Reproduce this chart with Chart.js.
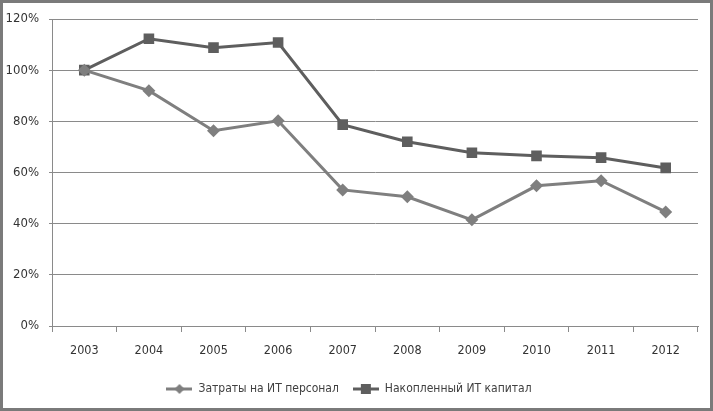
<!DOCTYPE html>
<html>
<head>
<meta charset="utf-8">
<script src="https://cdn.jsdelivr.net/npm/chart.js@4/dist/chart.umd.min.js"></script>
<style>
  body { margin: 0; background: #fff; }
  #chart { display: block; }
</style>
</head>
<body>
<canvas id="chart" width="713" height="411"></canvas>
<script>
const years = ['2003', '2004', '2005', '2006', '2007', '2008', '2009', '2010', '2011', '2012'];
const staffCosts = [1.00, 0.92, 0.763, 0.802, 0.532, 0.505, 0.415, 0.548, 0.568, 0.446];
const itCapital = [1.00, 1.123, 1.088, 1.108, 0.787, 0.72, 0.677, 0.665, 0.658, 0.618];
const yTicks = [0, 0.2, 0.4, 0.6, 0.8, 1.0, 1.2];

const FONT = '"Liberation Sans Narrow", "DejaVu Sans Condensed", Arial, sans-serif';
const lightGrey = '#7f7f7f';
const darkGrey = '#5e5e5e';

// small legend icons: line with marker in the middle
function legendIcon(color, shape){
    const c = document.createElement('canvas');
    c.width = 26; c.height = 12;
    const g = c.getContext('2d');
    g.strokeStyle = color; g.fillStyle = color; g.lineWidth = 3;
    g.beginPath(); g.moveTo(0, 6); g.lineTo(26, 6); g.stroke();
    g.beginPath();
    if(shape === 'diamond'){
        g.moveTo(13, 1); g.lineTo(18, 6); g.lineTo(13, 11); g.lineTo(8, 6); g.closePath();
    } else {
        g.rect(8, 1, 10, 10);
    }
    g.fill();
    return c;
}

const framePlugin = {
    id: 'frame',
    beforeDraw(chart){
        const c = chart.ctx;
        c.save();
        c.fillStyle = '#fff';
        c.fillRect(0, 0, chart.width, chart.height);
        c.restore();
    },
    afterDraw(chart){
        const c = chart.ctx;
        c.save();
        c.strokeStyle = '#7a7a7a';
        c.lineWidth = 3;
        c.strokeRect(1.5, 1.5, chart.width - 3, chart.height - 3);
        c.restore();
    }
};

new Chart(document.getElementById('chart'), {
    type: 'line',
    data: {
        labels: years,
        datasets: [{
            label: 'Затраты на ИТ персонал',
            data: staffCosts,
            borderColor: lightGrey,
            backgroundColor: lightGrey,
            borderWidth: 3,
            pointStyle: 'rectRot',
            pointRadius: 6.5,
            pointBorderWidth: 0,
            tension: 0,
            legendIcon: legendIcon(lightGrey, 'diamond')
        }, {
            label: 'Накопленный ИТ капитал',
            data: itCapital,
            borderColor: darkGrey,
            backgroundColor: darkGrey,
            borderWidth: 3,
            pointStyle: 'rect',
            pointRadius: 7.5,
            pointBorderWidth: 0,
            tension: 0,
            legendIcon: legendIcon(darkGrey, 'square')
        }]
    },
    options: {
        responsive: false,
        devicePixelRatio: 1,
        animation: false,
        layout: { padding: { top: 19, right: 15, bottom: 6, left: 0 } },
        plugins: {
            tooltip: { enabled: false },
            legend: {
                position: 'bottom',
                labels: {
                    usePointStyle: true,
                    pointStyleWidth: 26,
                    color: '#404040',
                    font: { family: FONT, size: 12 },
                    padding: 14,
                    generateLabels(chart){
                        return chart.data.datasets.map((ds, i) => ({
                            text: ds.label,
                            pointStyle: ds.legendIcon,
                            fillStyle: ds.borderColor,
                            strokeStyle: ds.borderColor,
                            lineWidth: 0,
                            fontColor: '#404040',
                            datasetIndex: i
                        }));
                    }
                }
            }
        },
        scales: {
            x: {
                offset: true,
                grid: {
                    offset: true,
                    drawOnChartArea: false,
                    drawTicks: true,
                    tickLength: 6,
                    color: '#8a8a8a'
                },
                border: { color: '#8a8a8a', width: 1 },
                ticks: {
                    color: '#333',
                    font: { family: FONT, size: 12.5 },
                    padding: 11,
                    maxRotation: 0
                },
                afterFit(scale){ scale.height = 43; }
            },
            y: {
                min: 0,
                max: 1.2,
                afterBuildTicks(scale){ scale.ticks = yTicks.map(v => ({ value: v })); },
                grid: { color: '#8a8a8a', tickLength: 3 },
                border: { color: '#8a8a8a', width: 1 },
                ticks: {
                    color: '#333',
                    font: { family: FONT, size: 13 },
                    padding: 10,
                    callback: v => Math.round(v * 100) + '%'
                },
                afterFit(scale){ scale.width = 52; }
            }
        }
    },
    plugins: [framePlugin]
});
</script>
</body>
</html>
